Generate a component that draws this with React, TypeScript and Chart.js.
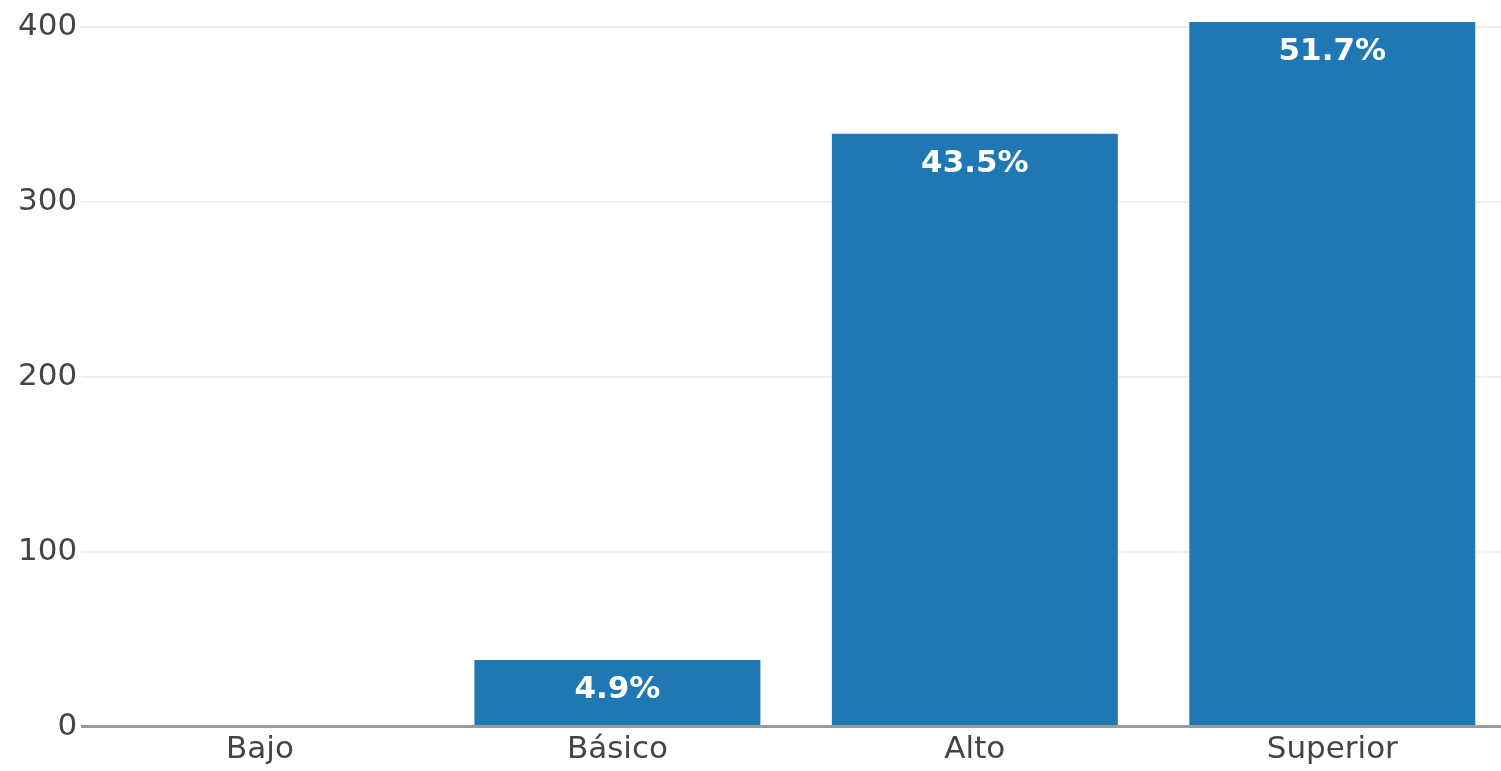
import React, { useEffect, useRef } from "react";
import { Chart, registerables } from "chart.js";

Chart.register(...registerables);

const categories = ["Bajo", "Básico", "Alto", "Superior"];
const counts = [0, 38, 339, 403];
const percentLabels = ["", "4.9%", "43.5%", "51.7%"];
const yTicks = [0, 100, 200, 300, 400];

const FONT = "'DejaVu Sans', Verdana, sans-serif";

const barLabelPlugin = {
  id: "barLabels",
  afterDatasetsDraw(chart: any) {
    const ctx = chart.ctx;
    const meta = chart.getDatasetMeta(0);
    ctx.save();
    ctx.font = `bold 31px ${FONT}`;
    ctx.fillStyle = "#ffffff";
    ctx.textAlign = "center";
    ctx.textBaseline = "middle";
    meta.data.forEach((bar: any, i: number) => {
      const label = percentLabels[i];
      if (!label) return;
      ctx.fillText(label, bar.x, bar.y + 30);
    });
    ctx.restore();
  },
};

export default function App() {
  const ref = useRef<HTMLCanvasElement | null>(null);

  useEffect(() => {
    if (!ref.current) return;
    const chart = new Chart(ref.current, {
      type: "bar",
      data: {
        labels: categories,
        datasets: [
          {
            data: counts,
            backgroundColor: "#1f77b4",
            borderWidth: 0,
            categoryPercentage: 0.8,
            barPercentage: 1.0,
          },
        ],
      },
      options: {
        animation: false,
        responsive: true,
        maintainAspectRatio: false,
        layout: { padding: { top: 1, left: 0, right: 0, bottom: 0 } },
        plugins: {
          legend: { display: false },
          tooltip: { enabled: false },
        },
        scales: {
          x: {
            grid: { display: false, drawTicks: false },
            border: { display: false },
            ticks: {
              color: "#444",
              padding: 5,
              font: { family: FONT, size: 31 },
            },
            afterFit(scale: any) {
              scale.height = 44.5;
              scale.paddingLeft = 0;
              scale.paddingRight = 0;
            },
          },
          y: {
            min: 0,
            max: 415,
            afterBuildTicks(scale: any) {
              scale.ticks = yTicks.map((v) => ({ value: v }));
            },
            grid: {
              drawTicks: false,
              color: (c: any) => (c.tick && c.tick.value === 0 ? "#9a9a9a" : "#f0f0f0"),
              lineWidth: (c: any) => (c.tick && c.tick.value === 0 ? 3 : 2),
            },
            border: { display: false },
            ticks: {
              color: "#444",
              padding: 4,
              font: { family: FONT, size: 31 },
            },
            afterFit(scale: any) {
              scale.width = 81.25;
              scale.paddingTop = 0;
              scale.paddingBottom = 0;
            },
          },
        },
      },
      plugins: [barLabelPlugin],
    });
    return () => chart.destroy();
  }, []);

  return (
    <div
      style={{
        position: "fixed",
        left: 0,
        top: 0,
        width: 1501,
        height: 771,
        overflow: "hidden",
        background: "#ffffff",
      }}
    >
      <div style={{ position: "relative", width: 1511, height: 771 }}>
        <canvas ref={ref} />
      </div>
    </div>
  );
}
